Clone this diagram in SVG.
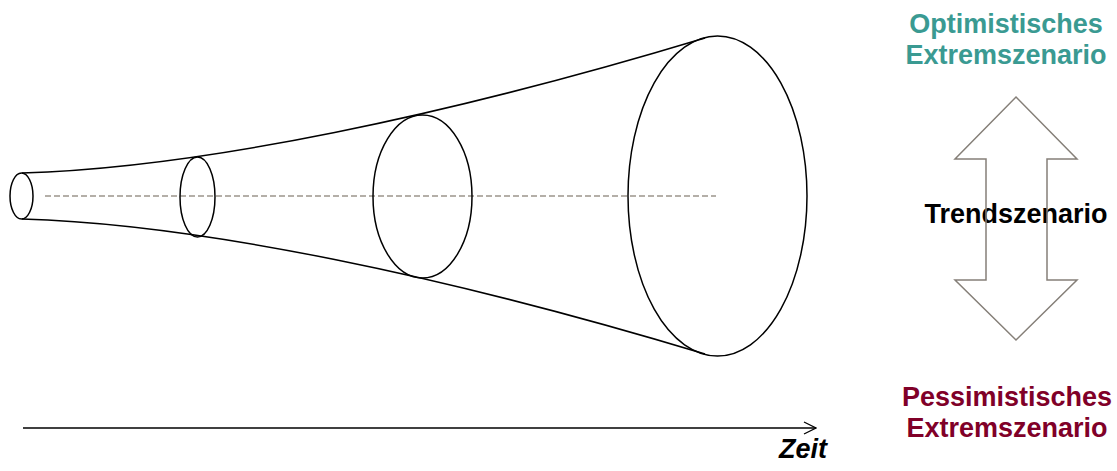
<svg xmlns="http://www.w3.org/2000/svg" width="1117" height="471" viewBox="0 0 1117 471">
<style>
.ln{fill:none;stroke:#000;stroke-width:1.5}
.el{fill:none;stroke:#000;stroke-width:1.5}
.t{font-family:"Liberation Sans",Arial,sans-serif;font-weight:bold;font-size:27px;text-anchor:middle}
</style>
<defs>
<marker id="open" markerWidth="14" markerHeight="14" refX="13" refY="7" orient="auto" markerUnits="userSpaceOnUse">
<path d="M1,1 L13,7 L1,13" fill="none" stroke="#000" stroke-width="1.3"/>
</marker>
</defs>
<rect width="1117" height="471" fill="#fff"/>
<g id="funnel">
<path class="ln" d="M22,173 C200,168 450,115 705,38"/>
<path class="ln" d="M22,219 C200,224 450,277 705,354"/>
<line x1="45" y1="196" x2="716" y2="196" stroke="#9c958c" stroke-width="1.5" stroke-dasharray="6,3"/>
<ellipse class="el" cx="21.5" cy="196" rx="11.5" ry="23"/>
<ellipse class="el" cx="197.5" cy="197" rx="17.5" ry="40"/>
<ellipse class="el" cx="422.5" cy="196.5" rx="49.5" ry="81.5"/>
<ellipse class="el" cx="717.5" cy="196" rx="89.5" ry="160"/>
</g>
<g id="connectors">
<line x1="23" y1="428" x2="816" y2="428" stroke="#000" stroke-width="1.3" marker-end="url(#open)"/>
</g>
<g id="zeit">
<text class="t" x="803" y="458" font-style="italic" font-size="25">Zeit</text>
</g>
<g id="optimistisch">
<text class="t" x="1006" y="33" fill="#3a9a92">Optimistisches</text>
<text class="t" x="1006" y="64" fill="#3a9a92">Extremszenario</text>
</g>
<g id="trend">
<text class="t" x="1016" y="223" fill="#000">Trendszenario</text>
</g>
<g id="doublearrow">
<polygon points="1016,97 1077,159 1047,159 1047,280 1077,280 1016,340 955,280 986,280 986,159 955,159" fill="none" stroke="#857f78" stroke-width="1.5"/>
</g>
<g id="pessimistisch">
<text class="t" x="1007" y="406" fill="#800028">Pessimistisches</text>
<text class="t" x="1007" y="437" fill="#800028">Extremszenario</text>
</g>
</svg>
